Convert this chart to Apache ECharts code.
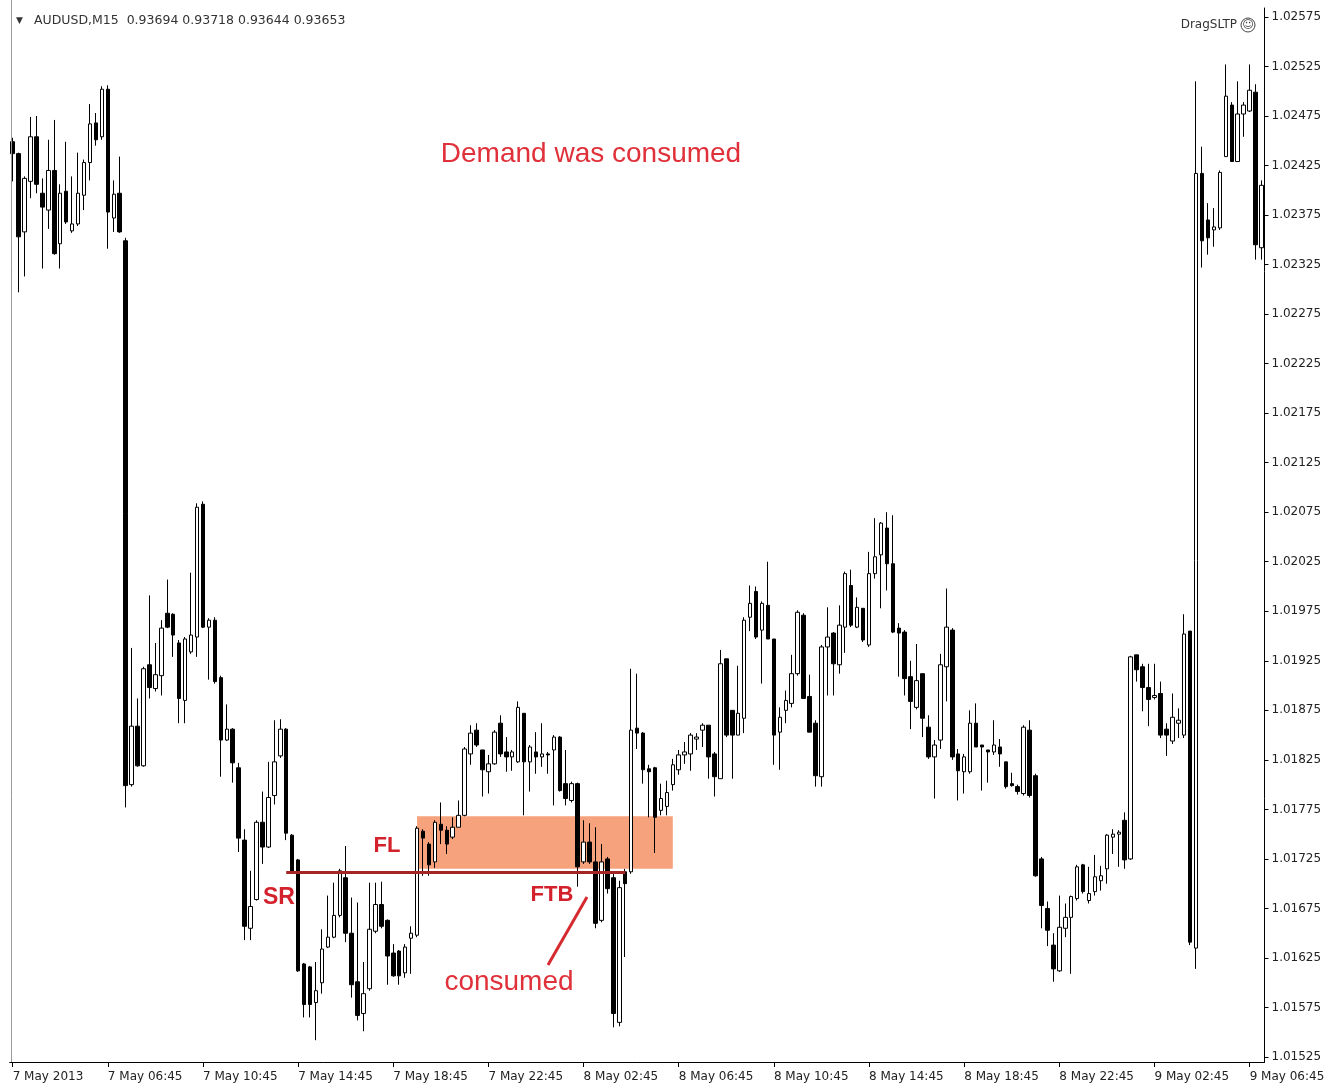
<!DOCTYPE html>
<html><head><meta charset="utf-8">
<script src="https://cdn.jsdelivr.net/npm/echarts@6/dist/echarts.min.js"></script>
<style>html,body{margin:0;padding:0;background:#fff}#chart{width:1328px;height:1091px}</style>
</head><body><div id="chart"></div>
<script>
// ---- header / labels ----
const symbolName = 'AUDUSD,M15';
const headerQuote = ['0.93694', '0.93718', '0.93644', '0.93653'];
const xTickLabels = ['7 May 2013', '7 May 06:45', '7 May 10:45', '7 May 14:45', '7 May 18:45', '7 May 22:45',
  '8 May 02:45', '8 May 06:45', '8 May 10:45', '8 May 14:45', '8 May 18:45', '8 May 22:45',
  '9 May 02:45', '9 May 06:45'];
const barsPerTick = 16;
const yTickValues = [1.01525, 1.01575, 1.01625, 1.01675, 1.01725, 1.01775, 1.01825, 1.01875, 1.01925,
  1.01975, 1.02025, 1.02075, 1.02125, 1.02175, 1.02225, 1.02275, 1.02325, 1.02375, 1.02425, 1.02475,
  1.02525, 1.02575];

// ---- candles [open, close, low, high] ----
const ohlcA = [
  [1.02449,1.02437,1.02409,1.02453],[1.02437,1.02353,1.02297,1.02438],[1.02358,1.02412,1.02313,1.02414],
  [1.02409,1.02454,1.02392,1.02474],[1.02454,1.02406,1.02397,1.02475],[1.02397,1.02383,1.02321,1.02412],
  [1.02380,1.02420,1.02361,1.02451],[1.02420,1.02336,1.02335,1.02471],[1.02346,1.02397,1.02321,1.02406],
  [1.02399,1.02368,1.02366,1.02449],[1.02359,1.02366,1.02357,1.02414],[1.02366,1.02397,1.02364,1.02438],
  [1.02395,1.02428,1.02380,1.02431],[1.02428,1.02467,1.02410,1.02487],[1.02468,1.02451,1.02445,1.02478],
  [1.02454,1.02502,1.02451,1.02505],[1.02502,1.02378,1.02341,1.02506],[1.02372,1.02396,1.02358,1.02410],
  [1.02397,1.02358,1.02357,1.02434],[1.02349,1.01799,1.01777,1.02352],[1.01800,1.01859,1.01798,1.01938],
  [1.01859,1.01819,1.01818,1.01887],[1.01819,1.01917,1.01818,1.01919],[1.01921,1.01898,1.01887,1.01991],
  [1.01897,1.01911,1.01894,1.01943],[1.01910,1.01958,1.01890,1.01966],[1.01973,1.01959,1.01958,1.02007],
  [1.01972,1.01951,1.01929,1.01973],[1.01943,1.01887,1.01862,1.01946],[1.01885,1.01947,1.01862,1.01949],
  [1.01934,1.01951,1.01932,1.02014],[1.01949,1.02080,1.01929,1.02084],[1.02083,1.01959,1.01958,1.02086],
  [1.01959,1.01966,1.01906,1.01968],[1.01966,1.01904,1.01902,1.01969],[1.01908,1.01845,1.01808,1.01910],
  [1.01845,1.01856,1.01844,1.01881],[1.01856,1.01822,1.01802,1.01857],[1.01817,1.01746,1.01732,1.01822]
];
const ohlcB = [
  [1.01744,1.01657,1.01643,1.01755],[1.01655,1.01677,1.01643,1.01713],[1.01684,1.01762,1.01683,1.01764],
  [1.01762,1.01737,1.01720,1.01793],[1.01737,1.01787,1.01736,1.01823],[1.01789,1.01823,1.01780,1.01865],
  [1.01829,1.01856,1.01827,1.01866],[1.01856,1.01751,1.01744,1.01857],[1.01749,1.01711,1.01710,1.01750],
  [1.01724,1.01612,1.01611,1.01725],[1.01619,1.01578,1.01565,1.01620],[1.01616,1.01578,1.01565,1.01617],
  [1.01580,1.01592,1.01542,1.01621],[1.01600,1.01634,1.01589,1.01654],[1.01636,1.01646,1.01635,1.01688],
  [1.01646,1.01668,1.01645,1.01701],[1.01668,1.01713,1.01666,1.01715],[1.01706,1.01650,1.01641,1.01738],
  [1.01650,1.01598,1.01585,1.01686],[1.01601,1.01567,1.01562,1.01681],[1.01569,1.01589,1.01551,1.01621],
  [1.01594,1.01654,1.01592,1.01701],[1.01652,1.01679,1.01650,1.01701],[1.01679,1.01657,1.01655,1.01702],
  [1.01663,1.01627,1.01598,1.01664],[1.01630,1.01607,1.01606,1.01639],[1.01632,1.01607,1.01598,1.01633],
  [1.01610,1.01636,1.01605,1.01639],[1.01645,1.01650,1.01609,1.01657],[1.01648,1.01756,1.01646,1.01758],
  [1.01753,1.01746,1.01708,1.01755],[1.01740,1.01719,1.01708,1.01742],[1.01722,1.01762,1.01716,1.01764],
  [1.01760,1.01754,1.01740,1.01782],[1.01754,1.01740,1.01730,1.01758]
];
const ohlcC = [
  [1.01747,1.01757,1.01745,1.01767],[1.01757,1.01769,1.01757,1.01784],[1.01769,1.01836,1.01768,1.01838],
  [1.01831,1.01852,1.01820,1.01860],[1.01855,1.01840,1.01838,1.01862],[1.01835,1.01815,1.01788,1.01835],
  [1.01813,1.01821,1.01791,1.01830],[1.01821,1.01853,1.01820,1.01855],[1.01862,1.01831,1.01828,1.01870],
  [1.01833,1.01828,1.01813,1.01848],[1.01828,1.01833,1.01814,1.01835],[1.01823,1.01878,1.01822,1.01884],
  [1.01872,1.01823,1.01769,1.01872],[1.01823,1.01838,1.01793,1.01840],[1.01833,1.01828,1.01811,1.01853],
  [1.01828,1.01831,1.01818,1.01862],[1.01831,1.01830,1.01811,1.01833],[1.01835,1.01848,1.01779,1.01850],
  [1.01848,1.01794,1.01793,1.01849],[1.01801,1.01786,1.01779,1.01835],[1.01784,1.01801,1.01782,1.01803],
  [1.01801,1.01717,1.01697,1.01802],[1.01722,1.01742,1.01720,1.01764],[1.01742,1.01722,1.01720,1.01761],
  [1.01722,1.01660,1.01655,1.01757],[1.01663,1.01722,1.01661,1.01740],[1.01725,1.01695,1.01690,1.01727],
  [1.01706,1.01569,1.01555,1.01712],[1.01560,1.01696,1.01556,1.01703],[1.01712,1.01700,1.01626,1.01715],
  [1.01712,1.01855,1.01710,1.01917],[1.01857,1.01852,1.01836,1.01912],[1.01852,1.01815,1.01801,1.01853],
  [1.01816,1.01813,1.01767,1.01820],[1.01817,1.01767,1.01731,1.01818],[1.01774,1.01786,1.01769,1.01801],
  [1.01778,1.01792,1.01769,1.01804],[1.01800,1.01820,1.01794,1.01826],[1.01815,1.01830,1.01810,1.01835]
];
const ohlcD = [
  [1.01830,1.01833,1.01821,1.01843],[1.01831,1.01850,1.01814,1.01852],[1.01846,1.01848,1.01835,1.01852],
  [1.01855,1.01860,1.01838,1.01862],[1.01860,1.01828,1.01806,1.01860],[1.01831,1.01808,1.01788,1.01833],
  [1.01806,1.01922,1.01806,1.01936],[1.01927,1.01850,1.01848,1.01927],[1.01875,1.01850,1.01806,1.01875],
  [1.01850,1.01872,1.01850,1.01920],[1.01867,1.01966,1.01852,1.01969],[1.01969,1.01983,1.01955,1.02001],
  [1.01995,1.01949,1.01947,1.02000],[1.01956,1.01983,1.01902,1.01985],[1.01981,1.01947,1.01947,1.02025],
  [1.01947,1.01850,1.01820,1.01947],[1.01853,1.01868,1.01815,1.01878],[1.01875,1.01885,1.01862,1.01895],
  [1.01882,1.01912,1.01878,1.01931],[1.01912,1.01974,1.01910,1.01976],[1.01971,1.01887,1.01887,1.01973],
  [1.01889,1.01853,1.01853,1.01911],[1.01862,1.01809,1.01798,1.01865],[1.01808,1.01939,1.01798,1.01941],
  [1.01939,1.01949,1.01890,1.01979],[1.01953,1.01922,1.01890,1.01954],[1.01921,1.01961,1.01912,1.01981],
  [1.01959,1.02013,1.01933,1.02015],[1.02001,1.01961,1.01959,1.02017],[1.01959,1.01979,1.01958,1.01989],
  [1.01978,1.01946,1.01944,1.01978],[1.01941,1.02013,1.01939,1.02035],[1.02013,1.02030,1.02008,1.02069],
  [1.02032,1.02064,1.01978,1.02065],[1.02059,1.02023,1.01996,1.02075],[1.02023,1.01954,1.01953,1.02072],
  [1.01958,1.01953,1.01909,1.01963]
];
const ohlcE = [
  [1.01954,1.01907,1.01890,1.01956],[1.01909,1.01884,1.01856,1.01925],[1.01878,1.01905,1.01876,1.01942],
  [1.01912,1.01867,1.01848,1.01912],[1.01858,1.01828,1.01826,1.01870],[1.01828,1.01840,1.01786,1.01845],
  [1.01845,1.01921,1.01836,1.01932],[1.01919,1.01959,1.01884,1.01998],[1.01956,1.01828,1.01825,1.01958],
  [1.01831,1.01814,1.01784,1.01836],[1.01813,1.01828,1.01791,1.01831],[1.01813,1.01862,1.01811,1.01875],
  [1.01862,1.01838,1.01838,1.01882],[1.01840,1.01838,1.01794,1.01840],[1.01835,1.01833,1.01802,1.01835],
  [1.01833,1.01840,1.01830,1.01865],[1.01838,1.01831,1.01818,1.01846],[1.01823,1.01798,1.01796,1.01823],
  [1.01801,1.01799,1.01798,1.01812],[1.01798,1.01793,1.01790,1.01800],[1.01791,1.01858,1.01789,1.01860],
  [1.01855,1.01789,1.01787,1.01865],[1.01809,1.01708,1.01707,1.01811],[1.01725,1.01678,1.01655,1.01727],
  [1.01675,1.01653,1.01637,1.01682],[1.01638,1.01614,1.01601,1.01650],[1.01612,1.01656,1.01611,1.01688],
  [1.01655,1.01666,1.01646,1.01680],[1.01666,1.01687,1.01609,1.01688],[1.01685,1.01717,1.01683,1.01719],
  [1.01719,1.01692,1.01690,1.01720],[1.01683,1.01690,1.01680,1.01717],[1.01692,1.01707,1.01688,1.01729],
  [1.01703,1.01708,1.01693,1.01718],[1.01715,1.01749,1.01700,1.01750],[1.01747,1.01750,1.01730,1.01755],
  [1.01750,1.01752,1.01717,1.01754],[1.01764,1.01724,1.01715,1.01772],[1.01725,1.01929,1.01724,1.01930]
];
const ohlcF = [
  [1.01931,1.01916,1.01904,1.01931],[1.01919,1.01898,1.01874,1.01922],[1.01898,1.01886,1.01859,1.01922],
  [1.01888,1.01890,1.01886,1.01922],[1.01892,1.01850,1.01847,1.01904],[1.01856,1.01850,1.01829,1.01862],
  [1.01844,1.01868,1.01841,1.01892],[1.01862,1.01865,1.01847,1.01877],[1.01850,1.01952,1.01847,1.01972],
  [1.01955,1.01641,1.01638,1.01955],[1.01635,1.02417,1.01614,1.02510],[1.02417,1.02349,1.02322,1.02444],
  [1.02370,1.02352,1.02335,1.02387],[1.02360,1.02363,1.02343,1.02382],[1.02362,1.02418,1.02360,1.02420],
  [1.02434,1.02495,1.02434,1.02527],[1.02486,1.02429,1.02429,1.02489],[1.02429,1.02477,1.02429,1.02510],
  [1.02477,1.02486,1.02454,1.02489],[1.02480,1.02501,1.02479,1.02527],[1.02499,1.02345,1.02330,1.02507],
  [1.02342,1.02405,1.02330,1.02410]
];

// ---- annotations (price levels / bar indexes) ----
const zoneBars = [68, 111];
const zonePrices = [1.01768, 1.01715];
const levelBars = [46, 103];
const levelPrice = 1.01712;

const candles = [].concat(ohlcA, ohlcB, ohlcC, ohlcD, ohlcE, ohlcF);
const categories = candles.map((d, i) => 'bar' + i);

const chart = echarts.init(document.getElementById('chart'), null, { renderer: 'canvas' });
const red = '#e0303a';
const boldRed = '#d3222c';
const axisFont = 'DejaVu Sans';

chart.setOption({
  animation: false,
  backgroundColor: '#ffffff',
  grid: { left: 9.7, right: 63.5, top: 8, bottom: 29, show: false },
  xAxis: {
    type: 'category',
    data: categories,
    boundaryGap: true,
    axisLine: { show: true, lineStyle: { color: '#000', width: 1 } },
    axisTick: { show: true, alignWithLabel: true, length: 5, interval: (i) => i % barsPerTick === 0, lineStyle: { color: '#000' } },
    axisLabel: {
      interval: (i) => i % barsPerTick === 0,
      formatter: (v, i) => xTickLabels[Math.round(i / barsPerTick)] || '',
      align: 'left', margin: 9, color: '#222', fontFamily: axisFont, fontSize: 12
    },
    splitLine: { show: false }
  },
  yAxis: {
    type: 'value', position: 'right', scale: true,
    min: 1.01520, max: 1.02584,
    axisLine: { show: true, lineStyle: { color: '#000', width: 1 } },
    axisTick: { show: true, length: 4, customValues: yTickValues, lineStyle: { color: '#000' } },
    axisLabel: { customValues: yTickValues, formatter: (v) => Number(v).toFixed(5), margin: 7,
      color: '#222', fontFamily: axisFont, fontSize: 12 },
    splitLine: { show: false }
  },
  series: [
    {
      type: 'line', data: [], z: 1, silent: true,
      markArea: {
        silent: true,
        itemStyle: { color: '#f6a27c', opacity: 1 },
        data: [[{ coord: [zoneBars[0], zonePrices[0]] }, { coord: [zoneBars[1], zonePrices[1]] }]]
      }
    },
    {
      type: 'candlestick', z: 3, data: candles, barWidth: 4,
      itemStyle: { color: '#ffffff', color0: '#000000', borderColor: '#000000', borderColor0: '#000000', borderWidth: 1 }
    },
    {
      type: 'line', data: [], z: 5, silent: true,
      markLine: {
        silent: true, symbol: ['none', 'none'], label: { show: false },
        lineStyle: { color: '#a52424', width: 3, type: 'solid' },
        data: [[{ coord: [levelBars[0], levelPrice] }, { coord: [levelBars[1], levelPrice] }]]
      }
    }
  ],
  graphic: [
    { type: 'line', shape: { x1: 11.5, y1: 0, x2: 11.5, y2: 1062 }, style: { stroke: '#9a9a9a', lineWidth: 1 }, z: 10 },
    { type: 'text', x: 16, y: 21, style: { text: '▼', font: '9px "DejaVu Sans"', fill: '#333', textVerticalAlign: 'middle' }, z: 10 },
    { type: 'text', x: 34, y: 21, style: { text: symbolName + '  ' + headerQuote.join(' '), font: '12.5px "DejaVu Sans"', fill: '#333', textVerticalAlign: 'middle' }, z: 10 },
    { type: 'text', x: 1237, y: 25, style: { text: 'DragSLTP', font: '12px "DejaVu Sans"', fill: '#333', textAlign: 'right', textVerticalAlign: 'middle' }, z: 10 },
    { type: 'circle', shape: { cx: 1248, cy: 25, r: 7 }, style: { fill: '#fff', stroke: '#444', lineWidth: 1 }, z: 10 },
    { type: 'text', x: 1248, y: 25, style: { text: '☺', font: '11px "DejaVu Sans"', fill: '#444', textAlign: 'center', textVerticalAlign: 'middle' }, z: 11 },
    { type: 'text', x: 591, y: 154, style: { text: 'Demand was consumed', font: '28px "Liberation Sans"', fill: red, textAlign: 'center', textVerticalAlign: 'middle' }, z: 10 },
    { type: 'text', x: 387, y: 846, style: { text: 'FL', font: 'bold 22px "Liberation Sans"', fill: boldRed, textAlign: 'center', textVerticalAlign: 'middle' }, z: 10 },
    { type: 'text', x: 279, y: 898, style: { text: 'SR', font: 'bold 23px "Liberation Sans"', fill: boldRed, textAlign: 'center', textVerticalAlign: 'middle' }, z: 10 },
    { type: 'text', x: 552, y: 895, style: { text: 'FTB', font: 'bold 22px "Liberation Sans"', fill: boldRed, textAlign: 'center', textVerticalAlign: 'middle' }, z: 10 },
    { type: 'line', shape: { x1: 548, y1: 965, x2: 587, y2: 897 }, style: { stroke: '#d52a30', lineWidth: 3 }, z: 10 },
    { type: 'text', x: 509, y: 982, style: { text: 'consumed', font: '28px "Liberation Sans"', fill: red, textAlign: 'center', textVerticalAlign: 'middle' }, z: 10 }
  ]
});
</script></body></html>
